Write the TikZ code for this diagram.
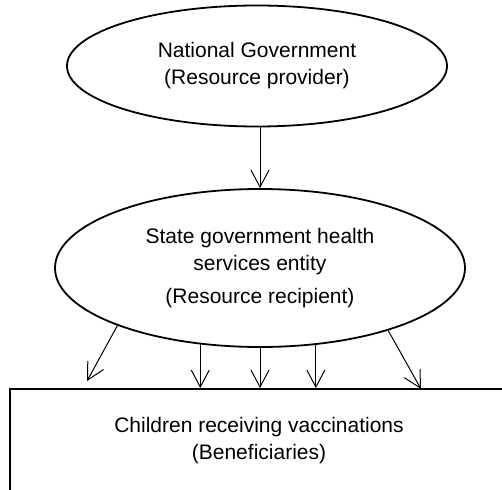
\documentclass[tikz,border=0pt]{standalone}
\usepackage{fontspec}
\setmainfont{Liberation Sans}
\usetikzlibrary{shapes.geometric,arrows.meta}
\begin{document}
\begin{tikzpicture}[x=1pt,y=-1pt,
  every node/.style={font=\fontsize{21}{27}\selectfont, align=center, inner sep=0pt},
  ellbox/.style={draw, line width=1.8pt, ellipse},
  recbox/.style={draw, line width=1.8pt, rectangle},
  arr/.style={-{Straight Barb[length=17pt,width=18pt,line width=1pt]}, line width=1pt}]
\clip (0,0) rectangle (502,489);
\node[ellbox, minimum width=380pt, minimum height=121pt] (ng) at (257,66)
  {National Government\\(Resource provider)};
\node[ellbox, minimum width=410pt, minimum height=158pt] (st) at (260,268)
  {State government health\\services entity\\[6pt](Resource recipient)};
\node[recbox, minimum width=498pt, minimum height=104pt] (kids) at (259,441)
  {Children receiving vaccinations\\(Beneficiaries)};
\coordinate (e1) at (87,381);
\coordinate (e5) at (421,389);
\draw[arr] (st.north |- ng.south) -- (st.north);
\draw[arr] (st.202.5) -- (e1);
\draw[arr] (st.232.1) -- (st.232.1 |- kids.north);
\draw[arr] (st.south) -- (st.south |- kids.north);
\draw[arr] (st.306.4) -- (st.306.4 |- kids.north);
\draw[arr] (st.334.9) -- (e5);
\end{tikzpicture}
\end{document}
